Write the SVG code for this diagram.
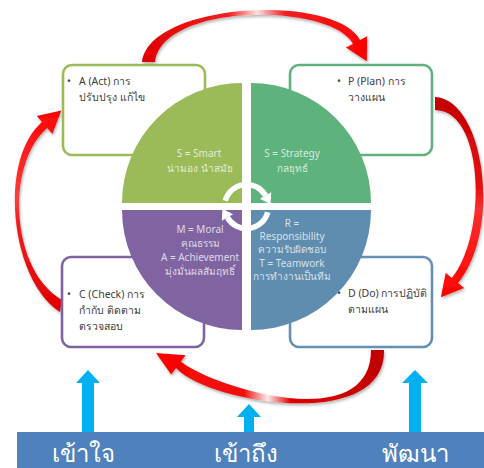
<svg xmlns="http://www.w3.org/2000/svg" width="484" height="468" viewBox="0 0 484 468">
<defs>
<style>
.box{fill:#ffffff;stroke-width:2.6}
.bt{font-family:"Noto Sans","DejaVu Sans",sans-serif;font-size:10.5px;fill:#404040}
.qt{font-family:"Noto Sans","DejaVu Sans",sans-serif;font-size:10px;fill:#ffffff;fill-opacity:0.75;text-anchor:middle}
.bar{font-family:"Noto Sans","DejaVu Sans",sans-serif;font-size:24px;fill:#ffffff;text-anchor:middle}
.red{filter:url(#sh)}
.blue{fill:#00B0F0}
.warc{fill:none;stroke:#ffffff;stroke-width:5.5}
.whead{fill:#ffffff}
</style>
<filter id="sh" x="-20%" y="-20%" width="140%" height="140%">
<feDropShadow dx="1" dy="2" stdDeviation="1.5" flood-color="#000000" flood-opacity="0.3"/>
</filter>
<linearGradient id="gTop" gradientUnits="userSpaceOnUse" x1="142" y1="0" x2="372" y2="0">
<stop offset="0" stop-color="#E00000"/>
<stop offset="0.38" stop-color="#F02020"/>
<stop offset="0.5" stop-color="#FFE0E0"/>
<stop offset="0.62" stop-color="#F02020"/>
<stop offset="1" stop-color="#FF0000"/>
</linearGradient>
<linearGradient id="gRight" gradientUnits="userSpaceOnUse" x1="0" y1="97" x2="0" y2="300">
<stop offset="0" stop-color="#C00000"/>
<stop offset="0.45" stop-color="#E81010"/>
<stop offset="0.55" stop-color="#F83030"/>
<stop offset="1" stop-color="#FF0000"/>
</linearGradient>
<linearGradient id="gBottom" gradientUnits="userSpaceOnUse" x1="385" y1="0" x2="150" y2="0">
<stop offset="0" stop-color="#C00000"/>
<stop offset="0.4" stop-color="#E00000"/>
<stop offset="0.5" stop-color="#FFE8E8"/>
<stop offset="0.6" stop-color="#F01010"/>
<stop offset="1" stop-color="#FF0000"/>
</linearGradient>
<linearGradient id="gLeft" gradientUnits="userSpaceOnUse" x1="0" y1="312" x2="0" y2="108">
<stop offset="0" stop-color="#E00000"/>
<stop offset="0.45" stop-color="#F02020"/>
<stop offset="0.55" stop-color="#F84040"/>
<stop offset="1" stop-color="#FF0000"/>
</linearGradient>
</defs>
<rect x="0" y="0" width="484" height="468" fill="#ffffff"/>

<g id="connectors">
<path class="red" fill="url(#gTop)" d="M142,62 C150,2 335,-7 360,40 L367.1,36.3 L366.8,61.3 L345.9,47.5 L353,43.8 C331,3 163,2 155,62 Z"/>
<path class="red" fill="url(#gRight)" d="M435,97 C485,100 502,230 458,283 L464.1,288.1 L440.9,297.3 L445.7,272.8 L451.8,277.9 C486.9,235.6 485,110 435,110 Z"/>
<path class="red" fill="url(#gBottom)" d="M384,350 C386,432 210,404 176,368 L171.2,374.4 L156,353 L185.6,355.2 L180.8,361.6 C214,388 371,436 371,350 Z"/>
<path class="red" fill="url(#gLeft)" d="M60,312 C10,280 -2,160 42,122 L36.8,115.9 L61.3,110.6 L52.4,134.1 L47.2,128.1 C5.6,164 10,270 62,300 Z"/>
</g>

<g id="box-a"><rect class="box" x="63" y="65" width="142" height="90" rx="9" stroke="#9BBB59"/>
<text class="bt" x="67" y="85">•</text><text class="bt" x="79" y="85">A (Act) การ</text>
<text class="bt" x="79" y="101">ปรับปรุง แก้ไข</text></g>
<g id="box-p"><rect class="box" x="290" y="65" width="142" height="90" rx="9" stroke="#62B07D"/>
<text class="bt" x="337" y="85">•</text><text class="bt" x="348" y="85">P (Plan) การ</text>
<text class="bt" x="348" y="101">วางแผน</text></g>
<g id="box-c"><rect class="box" x="62" y="257" width="142" height="90" rx="9" stroke="#8064A2"/>
<text class="bt" x="67" y="298">•</text><text class="bt" x="79" y="298">C (Check) การ</text>
<text class="bt" x="79" y="314">กำกับ ติดตาม</text>
<text class="bt" x="79" y="330">ตรวจสอบ</text></g>
<g id="box-d"><rect class="box" x="290" y="257" width="142" height="90" rx="9" stroke="#6690B2"/>
<text class="bt" x="337" y="297">•</text><text class="bt" x="348" y="297">D (Do) การปฏิบัติ</text>
<text class="bt" x="348" y="313">ตามแผน</text></g>

<g id="quad-s-smart"><path d="M242,203 L122,203 A120,120 0 0 1 242,83 Z" fill="#9BBB59"/>
<text class="qt" x="199" y="157">S = Smart</text>
<text class="qt" x="200" y="172">น่ามอง นำสมัย</text></g>
<g id="quad-s-strategy"><path d="M251,203 L251,83 A120,120 0 0 1 371,203 Z" fill="#5DB37B"/>
<text class="qt" x="292" y="157">S = Strategy</text>
<text class="qt" x="292" y="172">กลยุทธ์</text></g>
<g id="quad-m-a"><path d="M242,210 L242,330 A120,120 0 0 1 122,210 Z" fill="#8064A2"/>
<text class="qt" x="200" y="233">M = Moral</text>
<text class="qt" x="200" y="247">คุณธรรม</text>
<text class="qt" x="200" y="261">A = Achievement</text>
<text class="qt" x="200" y="275">มุ่งมั่นผลสัมฤทธิ์</text></g>
<g id="quad-r-t"><path d="M251,210 L371,210 A120,120 0 0 1 251,330 Z" fill="#5F8DAF"/>
<text class="qt" x="292" y="227">R =</text>
<text class="qt" x="292" y="240">Responsibility</text>
<text class="qt" x="292" y="253">ความรับผิดชอบ</text>
<text class="qt" x="292" y="267">T = Teamwork</text>
<text class="qt" x="292" y="280">การทำงานเป็นทีม</text></g>

<g id="cycle-arrows">
<path class="warc" d="M225.25,200.8 A22,22 0 0 1 265.55,195.5"/>
<polygon class="whead" points="271.2,192.25 270.55,204.2 259.9,198.75"/>
<path class="warc" d="M267.75,212.2 A22,22 0 0 1 227.45,217.5"/>
<polygon class="whead" points="221.8,220.75 222.45,208.8 233.1,214.25"/>
</g>

<g id="up-arrows">
<polygon class="blue" points="82,432 82,383 76,383 88,370 100,383 94,383 94,432"/>
<polygon class="blue" points="244,432 244,417 237,417 249,404 261,417 254,417 254,432"/>
<polygon class="blue" points="409,432 409,383 402,383 415,370 428,383 421,383 421,432"/>
</g>

<g id="bottom-bar">
<rect x="17" y="432" width="467" height="36" fill="#4F81BD"/>
<text class="bar" x="83" y="462">เข้าใจ</text>
<text class="bar" x="246" y="462">เข้าถึง</text>
<text class="bar" x="415" y="462">พัฒนา</text>
</g>
</svg>
